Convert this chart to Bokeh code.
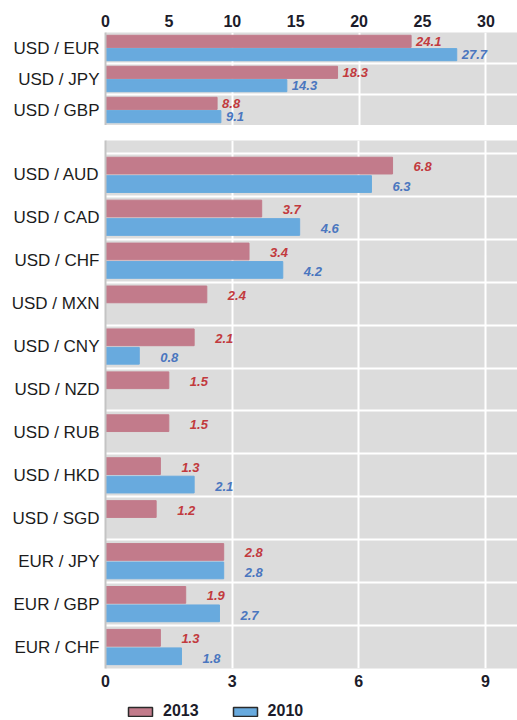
from bokeh.plotting import figure
from bokeh.models import (ColumnDataSource, Range1d, FixedTicker, Legend, LegendItem)
from bokeh.layouts import column
from bokeh.embed import file_html
from bokeh.resources import INLINE
from bokeh.core.properties import value

# ---------------- data ----------------
top_pairs = ["USD / EUR", "USD / JPY", "USD / GBP"]
top_2013 = [24.1, 18.3, 8.8]
top_2010 = [27.7, 14.3, 9.1]

bottom_pairs = ["USD / AUD", "USD / CAD", "USD / CHF", "USD / MXN", "USD / CNY",
                "USD / NZD", "USD / RUB", "USD / HKD", "USD / SGD",
                "EUR / JPY", "EUR / GBP", "EUR / CHF"]
bottom_2013 = [6.8, 3.7, 3.4, 2.4, 2.1, 1.5, 1.5, 1.3, 1.2, 2.8, 1.9, 1.3]
bottom_2010 = [6.3, 4.6, 4.2, None, 0.8, None, None, 2.1, None, 2.8, 2.7, 1.8]

top_ticks = [0, 5, 10, 15, 20, 25, 30]
bottom_ticks = [0, 3, 6, 9]
series_names = ["2013", "2010"]

# ---------------- style ----------------
PINK = "#c27b8b"
BLUE = "#68aade"
PINK_TXT = "#c23a3e"
BLUE_TXT = "#4a76bf"
BG = "#dcdcdc"
FONT = "Liberation Sans"
OFF = 0.215
BAR_H = 0.39
W = 517
LEFT = 105
NAN = float("nan")


def make_sources(pairs, v13, v10):
    n = len(pairs)
    s13 = dict(y=[i - OFF for i in range(n)], x=list(v13),
               t=[f"{v:.1f}" for v in v13])
    idx10 = [i for i in range(n) if v10[i] is not None]
    s10 = dict(y=[i + OFF for i in idx10], x=[v10[i] for i in idx10],
               t=[f"{v10[i]:.1f}" for i in idx10])
    return ColumnDataSource(s13), ColumnDataSource(s10)


def style(p, pairs, xticks, grid_ticks):
    n = len(pairs)
    p.background_fill_color = BG
    p.border_fill_color = "white"
    p.outline_line_color = None
    yax = p.yaxis[0]
    yax.ticker = FixedTicker(ticks=list(range(n)))
    yax.major_label_overrides = {i: pairs[i] for i in range(n)}
    yax.major_label_text_font = FONT
    yax.major_label_text_font_size = "17px"
    yax.major_label_text_color = "#1c1c1c"
    yax.major_tick_line_color = None
    yax.minor_tick_line_color = None
    yax.major_tick_out = 0
    yax.major_tick_in = 0
    yax.minor_tick_out = 0
    yax.axis_line_color = "#c4c4c4"
    yax.axis_line_width = 2
    yax.major_label_standoff = 6
    p.ygrid.ticker = FixedTicker(ticks=[i - 0.5 for i in range(n + 1)])
    p.ygrid.grid_line_color = "white"
    p.ygrid.grid_line_width = 2
    xax = p.xaxis[0]
    xax.ticker = FixedTicker(ticks=xticks)
    xax.major_label_text_font = FONT
    xax.major_label_text_font_size = "16px"
    xax.major_label_text_font_style = "bold"
    xax.major_label_text_color = "#1c1c2a"
    xax.major_tick_line_color = None
    xax.minor_tick_line_color = None
    xax.major_tick_out = 0
    xax.major_tick_in = 0
    xax.minor_tick_out = 0
    xax.axis_line_color = None
    xax.major_label_standoff = 6
    p.xgrid.ticker = FixedTicker(ticks=grid_ticks)
    p.xgrid.grid_line_color = "white"
    p.xgrid.grid_line_width = 2


def draw(p, s13, s10, xoff, yoff13, yoff10):
    p.hbar(y="y", right="x", left=0, height=BAR_H, source=s13,
           fill_color=PINK, line_color=PINK)
    p.hbar(y="y", right="x", left=0, height=BAR_H, source=s10,
           fill_color=BLUE, line_color=BLUE)
    p.text(x="x", y="y", text="t", source=s13, x_offset=xoff, y_offset=yoff13,
           text_font=value(FONT), text_font_size="13px",
           text_font_style="bold italic", text_color=PINK_TXT,
           text_baseline="middle", text_align="left")
    p.text(x="x", y="y", text="t", source=s10, x_offset=xoff, y_offset=yoff10,
           text_font=value(FONT), text_font_size="13px",
           text_font_style="bold italic", text_color=BLUE_TXT,
           text_baseline="middle", text_align="left")


# ---------------- top panel ----------------
t13, t10 = make_sources(top_pairs, top_2013, top_2010)
p1 = figure(width=W, height=125, output_backend="svg", toolbar_location=None,
            x_range=Range1d(0, 32.49), y_range=Range1d(len(top_pairs) - 0.5, -0.5),
            x_axis_location="above",
            min_border_left=LEFT, min_border_right=0, min_border_top=32,
            min_border_bottom=0)
style(p1, top_pairs, top_ticks, [10, 20, 30])
draw(p1, t13, t10, 5, 0, 0)

# ---------------- bottom panel ----------------
b13, b10 = make_sources(bottom_pairs, bottom_2013, bottom_2010)
p2 = figure(width=W, height=571, output_backend="svg", toolbar_location=None,
            x_range=Range1d(0, 9.76),
            y_range=Range1d(len(bottom_pairs) - 0.5, -0.8),
            min_border_left=LEFT, min_border_right=0, min_border_top=15,
            min_border_bottom=28)
style(p2, bottom_pairs, bottom_ticks, [3, 6, 9])
draw(p2, b13, b10, 21, 1, 2)

# ---------------- legend strip ----------------
p3 = figure(width=W, height=24, output_backend="svg", toolbar_location=None,
            x_range=Range1d(0, 1), y_range=Range1d(0, 1),
            x_axis_type=None, y_axis_type=None,
            min_border_left=LEFT, min_border_right=0, min_border_top=6,
            min_border_bottom=0)
p3.outline_line_color = None
p3.background_fill_color = "white"
p3.border_fill_color = "white"
p3.xgrid.visible = False
p3.ygrid.visible = False
# empty (NaN) proxies that only feed the legend swatches
proxy = ColumnDataSource(dict(y=[NAN], r=[NAN]))
lg13 = p3.hbar(y="y", right="r", left=0, height=0.5, source=proxy,
               fill_color=PINK, line_color="#2a2a2a", line_width=1.5)
lg10 = p3.hbar(y="y", right="r", left=0, height=0.5, source=proxy,
               fill_color=BLUE, line_color="#2a2a2a", line_width=1.5)
legend = Legend(items=[LegendItem(label=series_names[0], renderers=[lg13]),
                       LegendItem(label=series_names[1], renderers=[lg10])],
                orientation="horizontal", location=(20, 0),
                glyph_width=30, glyph_height=11, label_standoff=8, spacing=31,
                padding=0, margin=0, border_line_color=None,
                background_fill_alpha=0,
                label_text_font=FONT, label_text_font_size="16px",
                label_text_font_style="bold", label_text_color="#1c1c2a",
                label_height=16)
p3.add_layout(legend)

layout = column(p1, p2, p3, spacing=0)
open("out.html", "w").write(file_html(layout, INLINE))
